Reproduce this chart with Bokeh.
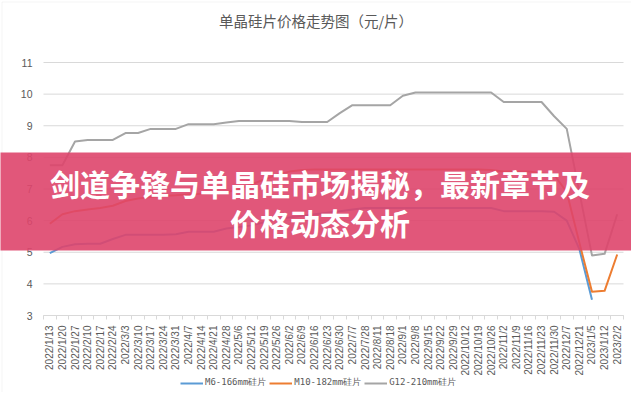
import math
from bokeh.plotting import figure
from bokeh.models import Range1d, FixedTicker, Label, BoxAnnotation, Legend, LegendItem
from bokeh.embed import file_html
from bokeh.resources import INLINE

# ---------------- data ----------------
dates = ["2022/1/13", "2022/1/20", "2022/1/27", "2022/2/10", "2022/2/17", "2022/2/24",
         "2022/3/3", "2022/3/10", "2022/3/17", "2022/3/24", "2022/3/31", "2022/4/7",
         "2022/4/14", "2022/4/21", "2022/4/28", "2022/5/6", "2022/5/12", "2022/5/19",
         "2022/5/26", "2022/6/2", "2022/6/9", "2022/6/16", "2022/6/23", "2022/6/30",
         "2022/7/7", "2022/7/28", "2022/8/11", "2022/8/18", "2022/9/1", "2022/9/8",
         "2022/9/15", "2022/9/22", "2022/9/29", "2022/10/12", "2022/10/19", "2022/10/26",
         "2022/11/2", "2022/11/9", "2022/11/16", "2022/11/23", "2022/11/30", "2022/12/7",
         "2022/12/21", "2023/1/5", "2023/1/12", "2023/2/2"]

m6 = [4.97, 5.17, 5.25, 5.27, 5.27, 5.42, 5.55, 5.55, 5.55, 5.55, 5.57, 5.65,
      5.65, 5.65, 5.75, 5.80, 5.85, 5.95, 6.05, 6.10, 6.15, 6.20, 6.25, 6.30,
      6.35, 6.40, 6.40, 6.40, 6.40, 6.40, 6.40, 6.40, 6.40, 6.40, 6.40, 6.40,
      6.30, 6.30, 6.30, 6.30, 6.28, 6.00, 5.10, 3.50, float("nan"), float("nan")]

m10 = [5.90, 6.20, 6.30, 6.35, 6.40, 6.47, 6.62, 6.70, 6.75, 6.78, 6.80, 6.83,
       6.85, 6.87, 6.90, 7.00, 7.15, 7.30, 7.45, 7.55, 7.60, 7.62, 7.62, 7.62,
       7.62, 7.62, 7.62, 7.62, 7.62, 7.62, 7.62, 7.62, 7.62, 7.62, 7.62, 7.60,
       7.55, 7.55, 7.55, 7.50, 7.45, 6.90, 5.30, 3.75, 3.78, 4.93]

g12 = [7.75, 7.75, 8.50, 8.55, 8.55, 8.55, 8.77, 8.77, 8.90, 8.90, 8.90, 9.05,
       9.05, 9.05, 9.10, 9.15, 9.15, 9.15, 9.15, 9.15, 9.12, 9.12, 9.12, 9.40,
       9.65, 9.65, 9.65, 9.65, 9.95, 10.05, 10.05, 10.05, 10.05, 10.05, 10.05, 10.05,
       9.75, 9.75, 9.75, 9.75, 9.30, 8.90, 6.90, 4.90, 4.95, 6.20]

series_names = ["M6-166mm硅片", "M10-182mm硅片", "G12-210mm硅片"]
y_ticks = [3, 4, 5, 6, 7, 8, 9, 10, 11]
title_text = "单晶硅片价格走势图（元/片）"
banner_line1 = "剑道争锋与单晶硅市场揭秘，最新章节及"
banner_line2 = "价格动态分析"

# ---------------- layout (page pixels) ----------------
W, H = 631, 392
PL, PR = 43, 623          # plot area left / right
PT, PB = 62, 315          # plot area top (y=11) / bottom (y=3)
GRAY_TXT = "#595959"
GRID = "#d9d9d9"
FONT = "Liberation Sans"
CJK = "Noto Sans CJK SC"

n = len(dates)
x_lo, x_hi = -0.5, n - 0.5
step = (PR - PL) / n
y_lo, y_hi = y_ticks[0], y_ticks[-1]
upx = (PB - PT) / (y_hi - y_lo)

xs = list(range(n))

p = figure(width=W, height=H, output_backend="svg", toolbar_location=None, title=None,
           x_range=Range1d(x_lo - PL / step, x_hi + (W - PR) / step),
           y_range=Range1d(y_lo - (H - PB) / upx, y_hi + PT / upx),
           min_border=0)
p.outline_line_color = None
p.background_fill_color = "white"
p.border_fill_color = "white"
p.grid.visible = False


def sy(py):  # page y -> screen y measured up from the canvas bottom
    return H - py


# gridlines at the y tick values
p.segment(x0=[x_lo] * len(y_ticks), x1=[x_hi] * len(y_ticks), y0=y_ticks, y1=y_ticks,
          line_color=GRID, line_width=1)

# y axis (drawn at the left edge of the plot area)
p.yaxis.fixed_location = x_lo
p.yaxis.bounds = (y_lo, y_hi)
p.yaxis.ticker = FixedTicker(ticks=y_ticks)
p.yaxis.axis_line_color = None
p.yaxis.major_tick_line_color = None
p.yaxis.minor_tick_line_color = None
p.yaxis.major_label_standoff = 5
p.yaxis.major_label_text_font = FONT
p.yaxis.major_label_text_font_size = "10.5px"
p.yaxis.major_label_text_color = GRAY_TXT

# x axis (drawn at y = 3)
p.xaxis.fixed_location = y_lo
p.xaxis.bounds = (x_lo, x_hi)
p.xaxis.ticker = FixedTicker(ticks=xs, minor_ticks=[i - 0.5 for i in range(n + 1)])
p.xaxis.major_label_overrides = {i: d for i, d in enumerate(dates)}
p.xaxis.major_label_orientation = math.pi / 2
p.xaxis.major_tick_out = 0
p.xaxis.major_tick_in = 0
p.xaxis.major_tick_line_color = None
p.xaxis.minor_tick_out = 4
p.xaxis.minor_tick_in = 0
p.xaxis.minor_tick_line_color = GRID
p.xaxis.axis_line_color = GRID
p.xaxis.major_label_standoff = 6
p.xaxis.major_label_text_font = FONT
p.xaxis.major_label_text_font_size = "10px"
p.xaxis.major_label_text_color = GRAY_TXT

# lines
colors = ["#5b9bd5", "#ed7d31", "#a5a5a5"]
renderers = []
for ys, c in zip([m6, m10, g12], colors):
    r = p.line(xs, ys, line_color=c, line_width=2, line_join="round")
    renderers.append(r)

legend = Legend(items=[LegendItem(label=nm, renderers=[r]) for nm, r in zip(series_names, renderers)],
                orientation="horizontal", location=(180, sy(389)),
                padding=0, margin=0, spacing=3, label_standoff=2,
                glyph_width=23, glyph_height=10,
                label_text_font="DejaVu Sans Mono", label_text_font_size="9px",
                label_text_color=GRAY_TXT, border_line_color=None,
                background_fill_alpha=0)
p.add_layout(legend, "center")

# chart title
p.add_layout(Label(x=315.5, y=sy(19.5), x_units="screen", y_units="screen",
                   text=title_text, text_align="center", text_baseline="middle",
                   text_font=CJK, text_font_size="14.5px", text_color=GRAY_TXT))

# outer chart border
p.add_layout(BoxAnnotation(left=1.5, right=W + 20, top=sy(1.5), bottom=-20,
                           left_units="screen", right_units="screen",
                           top_units="screen", bottom_units="screen",
                           fill_alpha=0, line_color=GRID, line_width=1))

# banner overlay across the whole width
p.add_layout(BoxAnnotation(left=-5, right=W + 5, top=sy(152), bottom=sy(250),
                           left_units="screen", right_units="screen",
                           top_units="screen", bottom_units="screen",
                           fill_color="#de456b", fill_alpha=0.9, line_color=None))
for txt, yy in [(banner_line1, 182), (banner_line2, 221)]:
    p.add_layout(Label(x=319.5, y=sy(yy), x_units="screen", y_units="screen",
                       text=txt, text_align="center", text_baseline="middle",
                       text_font=CJK, text_font_style="bold",
                       text_font_size="30px", text_color="white"))

open("out.html", "w").write(file_html(p, INLINE))
